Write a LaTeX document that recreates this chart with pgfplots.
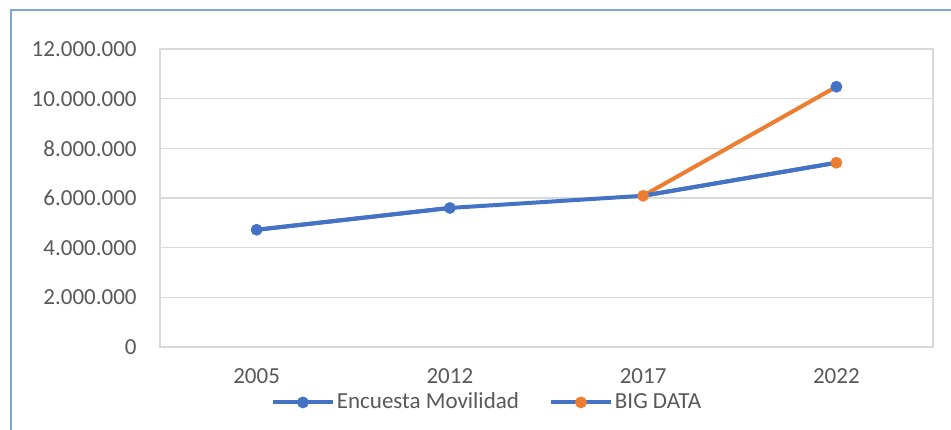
\documentclass[border=0pt]{standalone}
\usepackage{pgfplots}
\pgfplotsset{compat=1.18}
\usepackage{fontspec}
\setmainfont{Carlito}
\definecolor{exblue}{HTML}{4472C4}
\definecolor{exorange}{HTML}{ED7D31}
\definecolor{txtgray}{HTML}{595959}
\definecolor{gridgray}{HTML}{D9D9D9}
\definecolor{framebl}{HTML}{7FA7D6}
\begin{document}
\begin{tikzpicture}
\useasboundingbox (-80pt,-41pt) rectangle (395.5pt,173.5pt);
\fill[white] (-80pt,-41pt) rectangle (395.5pt,173.5pt);
\draw[framebl, line width=1.2pt] (-74.5pt,-50pt) -- (-74.5pt,168.5pt) -- (400pt,168.5pt);
\begin{axis}[
  at={(0pt,0pt)}, anchor=south west,
  scale only axis,
  width=386.5pt, height=149pt,
  xmin=-0.5, xmax=3.5,
  ymin=0, ymax=12000000,
  xtick={0,1,2,3},
  xticklabels={2005,2012,2017,2022},
  ytick={0,2000000,4000000,6000000,8000000,10000000,12000000},
  yticklabels={0,2.000.000,4.000.000,6.000.000,8.000.000,10.000.000,12.000.000},
  scaled y ticks=false,
  major tick length=0pt,
  tick style={draw=none},
  ymajorgrids,
  grid style={gridgray, line width=0.6pt},
  axis line style={draw=gridgray, line width=0.8pt},
  ticklabel style={font=\fontsize{11.5}{13}\selectfont, text=txtgray},
  yticklabel style={anchor=east, inner sep=0pt, xshift=-11.5pt},
  xticklabel style={anchor=north, inner sep=0pt, yshift=-10.5pt},
  legend columns=2,
  legend style={at={(0.423,-0.186)}, anchor=center, draw=none, fill=none,
    inner sep=0pt, font=\fontsize{11.5}{13}\selectfont, text=txtgray,
    nodes={inner sep=1pt},
    /tikz/every even column/.append style={column sep=14pt}},
  legend image code/.code={
    \draw[#1, mark repeat=2, mark phase=2] plot coordinates {(0pt,0pt)(15pt,0pt)(30pt,0pt)};
  },
]
% orange line (drawn underneath)
\addplot[exorange, line width=2pt, no markers, forget plot] coordinates {(2,6090000)(3,10480000)};
% blue line full
\addplot[exblue, line width=2pt, no markers, forget plot] coordinates {(0,4720000)(1,5600000)(2,6090000)(3,7420000)};
% Encuesta Movilidad
\addplot[exblue, line width=2pt, mark=*, mark size=2.7pt, mark options={solid, line width=0.5pt, fill=exblue, draw=exblue}] coordinates {(0,4720000)(1,5600000)};
\addlegendentry{Encuesta Movilidad}
% BIG DATA
\addplot[exblue, line width=2pt, mark=*, mark size=2.7pt, mark options={solid, line width=0.5pt, fill=exorange, draw=exorange}] coordinates {(2,6090000)(3,7420000)};
\addlegendentry{BIG DATA}
% blue marker at top of orange line
\addplot[only marks, mark=*, mark size=2.7pt, mark options={line width=0.5pt, fill=exblue, draw=exblue}, forget plot] coordinates {(3,10480000)};
\end{axis}
\end{tikzpicture}
\end{document}
